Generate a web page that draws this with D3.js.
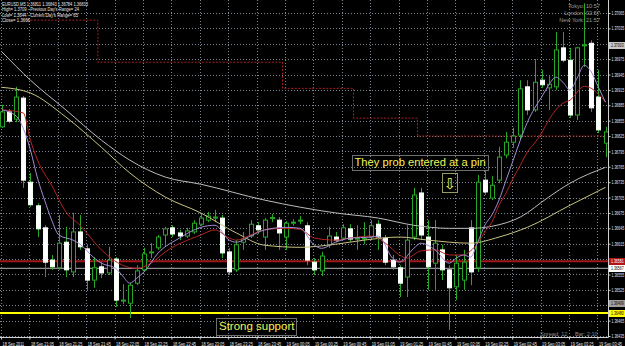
<!DOCTYPE html>
<html>
<head>
<meta charset="utf-8">
<script src="https://cdn.jsdelivr.net/npm/d3@7"></script>
<style>
  body { margin: 0; background: #000; }
  svg { display: block; }
</style>
</head>
<body>
<div id="chart"></div>
<script>

// ---- data (EURUSD, M5) ----

// bottom time scale: one label every 4 bars
var timeLabels = ["18 Sep 2011", "18 Sep 21:05", "18 Sep 21:25", "18 Sep 21:45", "18 Sep 22:05",
  "18 Sep 22:25", "18 Sep 22:45", "18 Sep 23:05", "18 Sep 23:25", "18 Sep 23:45", "19 Sep 00:05",
  "19 Sep 00:25", "19 Sep 00:45", "19 Sep 01:05", "19 Sep 01:25", "19 Sep 01:45", "19 Sep 02:05",
  "19 Sep 02:25", "19 Sep 02:45", "19 Sep 03:05", "19 Sep 03:25", "19 Sep 03:45"];
var timeTickBars = [0, 4, 8, 12, 16, 20, 24, 28, 32, 36, 40, 44, 48, 52, 56, 60, 64, 68, 72, 76, 80, 84];

// right price scale
var priceTicks = [1.36435, 1.36465, 1.36495, 1.36525, 1.36555, 1.36585, 1.36615, 1.36645, 1.36675,
  1.36705, 1.36735, 1.36765, 1.36795, 1.36825, 1.36855, 1.36885, 1.36915, 1.36945, 1.36975,
  1.37005, 1.37035, 1.37065];

// candles
var opens = [1.36843, 1.36872, 1.36858, 1.36899, 1.36735, 1.36689, 1.36646, 1.36583, 1.36568, 1.36618,
  1.36560, 1.36638, 1.36605, 1.36544, 1.36570, 1.36558, 1.36585, 1.36503, 1.36499, 1.36538,
  1.36564, 1.36597, 1.36607, 1.36632, 1.36646, 1.36636, 1.36630, 1.36638, 1.36653, 1.36661,
  1.36665, 1.36665, 1.36599, 1.36564, 1.36618, 1.36630, 1.36650, 1.36628, 1.36664, 1.36661,
  1.36628, 1.36655, 1.36659, 1.36650, 1.36579, 1.36562, 1.36613, 1.36628, 1.36626, 1.36644,
  1.36624, 1.36624, 1.36628, 1.36653, 1.36626, 1.36583, 1.36568, 1.36550, 1.36628, 1.36714,
  1.36628, 1.36577, 1.36603, 1.36564, 1.36531, 1.36544, 1.36646, 1.36568, 1.36739, 1.36704,
  1.36739, 1.36788, 1.36813, 1.36827, 1.36921, 1.36876, 1.36934, 1.36919, 1.36921, 1.36997,
  1.36973, 1.36866, 1.37001, 1.37006, 1.36901, 1.36811];
var highs = [1.36886, 1.36878, 1.36921, 1.36903, 1.36753, 1.36694, 1.36651, 1.36593, 1.36671, 1.36648,
  1.36675, 1.36671, 1.36613, 1.36589, 1.36579, 1.36609, 1.36589, 1.36536, 1.36538, 1.36573,
  1.36607, 1.36616, 1.36632, 1.36648, 1.36651, 1.36642, 1.36646, 1.36661, 1.36673, 1.36677,
  1.36681, 1.36671, 1.36607, 1.36622, 1.36638, 1.36661, 1.36657, 1.36665, 1.36673, 1.36667,
  1.36659, 1.36663, 1.36669, 1.36657, 1.36587, 1.36599, 1.36648, 1.36638, 1.36653, 1.36653,
  1.36651, 1.36657, 1.36661, 1.36661, 1.36632, 1.36593, 1.36573, 1.36651, 1.36724, 1.36724,
  1.36661, 1.36661, 1.36613, 1.36573, 1.36593, 1.36603, 1.36661, 1.36749, 1.36759, 1.36747,
  1.36804, 1.36833, 1.36841, 1.36934, 1.36934, 1.36975, 1.36954, 1.36944, 1.37028, 1.37028,
  1.36997, 1.36999, 1.37084, 1.37012, 1.36954, 1.36843];
var lows = [1.36841, 1.36850, 1.36852, 1.36724, 1.36687, 1.36628, 1.36550, 1.36564, 1.36564, 1.36550,
  1.36550, 1.36603, 1.36525, 1.36529, 1.36548, 1.36554, 1.36492, 1.36497, 1.36470, 1.36534,
  1.36560, 1.36587, 1.36603, 1.36609, 1.36628, 1.36622, 1.36626, 1.36634, 1.36650, 1.36657,
  1.36657, 1.36587, 1.36554, 1.36560, 1.36603, 1.36626, 1.36634, 1.36603, 1.36657, 1.36603,
  1.36603, 1.36650, 1.36653, 1.36573, 1.36554, 1.36552, 1.36607, 1.36618, 1.36622, 1.36618,
  1.36603, 1.36614, 1.36622, 1.36603, 1.36573, 1.36564, 1.36511, 1.36511, 1.36622, 1.36622,
  1.36525, 1.36525, 1.36544, 1.36447, 1.36505, 1.36525, 1.36534, 1.36560, 1.36710, 1.36700,
  1.36733, 1.36782, 1.36802, 1.36817, 1.36866, 1.36872, 1.36919, 1.36876, 1.36915, 1.36969,
  1.36860, 1.36856, 1.36960, 1.36872, 1.36831, 1.36784];
var closes = [1.36872, 1.36854, 1.36901, 1.36739, 1.36691, 1.36644, 1.36579, 1.36570, 1.36616, 1.36564,
  1.36638, 1.36609, 1.36544, 1.36568, 1.36558, 1.36583, 1.36505, 1.36505, 1.36534, 1.36562,
  1.36595, 1.36599, 1.36628, 1.36644, 1.36634, 1.36630, 1.36640, 1.36655, 1.36665, 1.36669,
  1.36667, 1.36597, 1.36560, 1.36613, 1.36624, 1.36653, 1.36642, 1.36661, 1.36666, 1.36636,
  1.36655, 1.36657, 1.36661, 1.36583, 1.36564, 1.36591, 1.36630, 1.36622, 1.36646, 1.36624,
  1.36626, 1.36626, 1.36650, 1.36628, 1.36579, 1.36570, 1.36538, 1.36622, 1.36710, 1.36632,
  1.36570, 1.36616, 1.36564, 1.36529, 1.36577, 1.36579, 1.36560, 1.36735, 1.36716, 1.36729,
  1.36784, 1.36813, 1.36825, 1.36917, 1.36876, 1.36930, 1.36925, 1.36926, 1.36993, 1.36973,
  1.36866, 1.36997, 1.37003, 1.36880, 1.36837, 1.36833];

// moving averages, [bar, price] read at points along each line
var fastMa = [[0, 1.36876], [2, 1.36864], [3, 1.36840], [4, 1.36798], [5, 1.36743], [6, 1.36700],
  [7, 1.36661], [8, 1.36632], [10, 1.36622], [11, 1.36614], [13, 1.36587], [14, 1.36577],
  [16, 1.36567], [17, 1.36552], [18, 1.36538], [19, 1.36548], [20, 1.36560], [22, 1.36597],
  [25, 1.36626], [28, 1.36647], [30, 1.36651], [32, 1.36622], [33, 1.36618], [35, 1.36630],
  [37, 1.36642], [40, 1.36647], [42, 1.36645], [44, 1.36612], [45, 1.36606], [47, 1.36618],
  [49, 1.36626], [52, 1.36628], [53, 1.36630], [55, 1.36587], [56, 1.36579], [58, 1.36606],
  [59, 1.36616], [61, 1.36603], [63, 1.36577], [64, 1.36587], [65, 1.36593], [66, 1.36589],
  [67, 1.36618], [68, 1.36651], [69, 1.36671], [70, 1.36700], [71, 1.36739], [72, 1.36778],
  [73, 1.36817], [74, 1.36852], [75, 1.36879], [76, 1.36901], [77, 1.36924], [78, 1.36940],
  [79, 1.36930], [80, 1.36915], [81, 1.36938], [82, 1.36963], [83, 1.36950], [84, 1.36920],
  [85, 1.36891]];
var midMa = [[0, 1.36876], [3, 1.36870], [4, 1.36817], [5, 1.36778], [7, 1.36729], [9, 1.36677],
  [11, 1.36651], [14, 1.36603], [17, 1.36573], [19, 1.36567], [21, 1.36577], [23, 1.36599],
  [28, 1.36632], [30, 1.36642], [32, 1.36626], [33, 1.36622], [35, 1.36632], [37, 1.36642],
  [40, 1.36645], [42, 1.36643], [44, 1.36626], [47, 1.36622], [49, 1.36626], [52, 1.36630],
  [54, 1.36616], [56, 1.36593], [57, 1.36587], [59, 1.36601], [61, 1.36603], [63, 1.36593],
  [65, 1.36593], [66, 1.36601], [67, 1.36616], [68, 1.36638], [69, 1.36657], [70, 1.36690],
  [71, 1.36714], [72, 1.36743], [73, 1.36768], [74, 1.36794], [75, 1.36811], [76, 1.36831],
  [77, 1.36856], [78, 1.36876], [79, 1.36889], [80, 1.36895], [82, 1.36922], [83, 1.36918],
  [84, 1.36907], [85, 1.36891]];
var slowMa = [[0, 1.36989], [4, 1.36934], [9, 1.36876], [14, 1.36817], [18, 1.36778], [23, 1.36745],
  [28, 1.36731], [37, 1.36700], [47, 1.36675], [53, 1.36665], [58, 1.36651], [63, 1.36645],
  [66, 1.36645], [69, 1.36649], [73, 1.36667], [77, 1.36706], [80, 1.36733], [85, 1.36764]];
var slowerMa = [[0, 1.36920], [4, 1.36909], [9, 1.36862], [14, 1.36803], [18, 1.36753], [23, 1.36706],
  [28, 1.36675], [33, 1.36636], [37, 1.36612], [42, 1.36608], [47, 1.36614], [51, 1.36622],
  [56, 1.36628], [60, 1.36622], [66, 1.36616], [70, 1.36628], [74, 1.36647], [80, 1.36690],
  [85, 1.36725]];

// dotted stair line (starts of each level) and its levels
var stepBars = [4, 14, 40, 50, 59];
var stepLevels = [1.37051, 1.36969, 1.36918, 1.36860, 1.36825];

// horizontal lines drawn on the chart
var resistanceLine = 1.36581;
var bidLine = 1.36567;
var supportLine = 1.36480;

// highlighted prices on the price scale
var markerPrices = [1.37003, 1.36581, 1.36567, 1.36499, 1.36480];

// ---- layout ----
var svgWidth = 625;
var svgHeight = 346;
var plotRight = 608;
var plotBottom = 337;
var squeeze = 0.7;      // price labels are drawn narrow so they fit the scale strip
var timeSqueeze = 0.78; // same for the time labels

var svg = d3.select("#chart")
  .append("svg")
  .attr("width", svgWidth)
  .attr("height", svgHeight)
  .style("font-family", "'Liberation Sans', Arial, sans-serif");

svg.append("rect")
  .attr("width", svgWidth)
  .attr("height", svgHeight)
  .attr("fill", "#000");

var xScale = d3.scaleLinear().domain([0, 85]).range([2, 605.5]);
var yScale = d3.scaleLinear().domain([1.36435, 1.37065]).range([336, 13]);

svg.append("clipPath").attr("id", "plotClip")
  .append("rect").attr("width", plotRight).attr("height", plotBottom);

var chartGroup = svg.append("g").attr("clip-path", "url(#plotClip)");

// dotted grid
chartGroup.selectAll(".vgrid")
  .data(timeTickBars)
  .enter()
  .append("line")
  .attr("x1", d => Math.round(xScale(d)) - 0.5)
  .attr("x2", d => Math.round(xScale(d)) - 0.5)
  .attr("y1", 0)
  .attr("y2", plotBottom)
  .attr("stroke", "#7a8694")
  .attr("stroke-dasharray", "1,2");

chartGroup.selectAll(".hgrid")
  .data(priceTicks)
  .enter()
  .append("line")
  .attr("x1", 0)
  .attr("x2", plotRight)
  .attr("y1", d => Math.round(yScale(d)) + 0.5)
  .attr("y2", d => Math.round(yScale(d)) + 0.5)
  .attr("stroke", "#7a8694")
  .attr("stroke-dasharray", "1,2");

// horizontal lines
function hLine(price, color, w) {
  chartGroup.append("line")
    .attr("x1", 0)
    .attr("x2", plotRight)
    .attr("y1", yScale(price))
    .attr("y2", yScale(price))
    .attr("stroke", color)
    .attr("stroke-width", w);
}
hLine(resistanceLine, "#a01818", 2);
hLine(bidLine, "#b4b4b4", 1);
hLine(supportLine, "#ffff00", 2);

// dotted stair line
var stairPoints = stepBars.map((b, i) => [xScale(b) - 3.5, stepLevels[i]]);
stairPoints.push([plotRight, stepLevels[stepLevels.length - 1]]);
chartGroup.append("path")
  .attr("d", d3.line().x(d => d[0]).y(d => yScale(d[1])).curve(d3.curveStepAfter)(stairPoints))
  .attr("fill", "none")
  .attr("stroke", "#a02020")
  .attr("stroke-dasharray", "2,1.5");

// candles
var candleData = opens.map((o, i) => ({ i: i, open: o, high: highs[i], low: lows[i], close: closes[i] }));

chartGroup.selectAll(".wick")
  .data(candleData)
  .enter()
  .append("line")
  .attr("x1", d => Math.round(xScale(d.i)) + 0.5)
  .attr("x2", d => Math.round(xScale(d.i)) + 0.5)
  .attr("y1", d => yScale(d.high))
  .attr("y2", d => yScale(d.low))
  .attr("stroke", "#26a826");

chartGroup.selectAll(".body")
  .data(candleData)
  .enter()
  .append("rect")
  .attr("x", d => Math.round(xScale(d.i)) - 1.5)
  .attr("width", 4)
  .attr("y", d => yScale(Math.max(d.open, d.close)))
  .attr("height", d => Math.max(0.5, Math.abs(yScale(d.open) - yScale(d.close))))
  .attr("fill", d => d.close >= d.open ? "#000" : "#fff")
  .attr("stroke", d => d.close >= d.open ? "#26a826" : "#f2fff2");

// moving averages on top
var maLine = d3.line()
  .x(d => xScale(d[0]))
  .y(d => yScale(d[1]))
  .curve(d3.curveMonotoneX);

function drawMa(points, color) {
  chartGroup.append("path")
    .attr("d", maLine(points))
    .attr("fill", "none")
    .attr("stroke", color)
    .attr("stroke-width", 1);
}
drawMa(slowerMa, "#c8c282");
drawMa(slowMa, "#bcbcbc");
drawMa(midMa, "#b42424");
drawMa(fastMa, "#a28cd6");

// annotations
var noteColor = "#f2f25a";

chartGroup.append("rect")
  .attr("x", 352.5).attr("y", 155.5).attr("width", 136).attr("height", 15)
  .attr("fill", "none").attr("stroke", "#6e6e6e");
chartGroup.append("text")
  .attr("x", 354.5).attr("y", 166)
  .attr("font-size", "11.2px")
  .attr("fill", noteColor)
  .text("They prob entered at a pin");

chartGroup.append("rect")
  .attr("x", 442.5).attr("y", 173.5).attr("width", 15).attr("height", 19)
  .attr("fill", "none").attr("stroke", "#9a9a60");
chartGroup.append("text")
  .attr("x", 450).attr("y", 189)
  .attr("text-anchor", "middle")
  .attr("font-family", "'DejaVu Sans', sans-serif")
  .attr("font-size", "15px")
  .attr("fill", noteColor)
  .text("\u21E9");

chartGroup.append("rect")
  .attr("x", 216.5).attr("y", 318.5).attr("width", 80).attr("height", 17)
  .attr("fill", "none").attr("stroke", "#6e6e6e");
chartGroup.append("text")
  .attr("x", 219).attr("y", 330)
  .attr("font-size", "11.5px")
  .attr("fill", noteColor)
  .text("Strong support");

// info texts
var last = candleData[candleData.length - 1];
var f5 = d3.format(".5f");
var infoLines = [
  "EURUSD,M5  " + f5(last.open) + " " + f5(last.high) + " " + f5(last.low) + " " + f5(last.close),
  "High= 1.3709 - Previous Day's Range= 24",
  "Low= 1.3644 - Current Day's Range= 65",
  "Close= 1.3666"
];
var infoWidths = [86, 77, 76, 28];
svg.selectAll(".info")
  .data(infoLines)
  .enter()
  .append("text")
  .attr("x", 2)
  .attr("y", (d, i) => 5.5 + i * 5.6)
  .attr("font-size", "5px")
  .attr("textLength", (d, i) => infoWidths[i])
  .attr("lengthAdjust", "spacingAndGlyphs")
  .attr("fill", "#e6e6e6")
  .text(d => d);

var clockLines = ["Tokyo: 10:57", "London: 02:57", "New York: 21:57"];
svg.selectAll(".clock")
  .data(clockLines)
  .enter()
  .append("text")
  .attr("x", 600)
  .attr("y", (d, i) => 8.3 + i * 6.9)
  .attr("text-anchor", "end")
  .attr("font-size", "5.6px")
  .attr("fill", "#9c9c9c")
  .text(d => d);

svg.append("text")
  .attr("x", 540).attr("y", 336)
  .attr("font-size", "5.6px").attr("fill", "#8c8c8c")
  .text("Spread: 12");
svg.append("text")
  .attr("x", 575).attr("y", 336)
  .attr("font-size", "5.6px").attr("fill", "#8c8c8c")
  .text("Bar: 2:10");

// price axis; labels under the highlighted boxes are not shown
function underMarker(p) {
  return markerPrices.some(m => Math.abs(yScale(m) - yScale(p)) < 5);
}
var rightAxis = d3.axisRight(yScale)
  .tickValues(priceTicks)
  .tickFormat(d => underMarker(d) ? "" : f5(d))
  .tickSize(2)
  .tickPadding(1);

var priceAxis = svg.append("g")
  .attr("transform", `translate(${plotRight + 0.5}, 0)`)
  .call(rightAxis);
priceAxis.select(".domain").remove();
priceAxis.selectAll("line").attr("stroke", "#d0d0d0");
priceAxis.selectAll("text")
  .filter(function() { return d3.select(this).text() !== ""; })
  .attr("x", 3 / squeeze)
  .attr("transform", `scale(${squeeze}, 1)`)
  .attr("font-size", "5px")
  .attr("font-family", "'Liberation Sans', Arial, sans-serif")
  .attr("fill", "#e6e6e6");

// time axis
var bottomAxis = d3.axisBottom(xScale)
  .tickValues(timeTickBars)
  .tickFormat((d, i) => timeLabels[i])
  .tickSize(2);

var timeAxis = svg.append("g")
  .attr("transform", `translate(-1, ${plotBottom + 0.5})`)
  .call(bottomAxis);
timeAxis.select(".domain").remove();
timeAxis.selectAll("line").attr("stroke", "#d0d0d0");
timeAxis.selectAll("text")
  .attr("x", 1 / timeSqueeze)
  .attr("y", 4.5)
  .attr("transform", `scale(${timeSqueeze}, 1)`)
  .attr("text-anchor", "start")
  .attr("font-size", "5px")
  .attr("font-family", "'Liberation Sans', Arial, sans-serif")
  .attr("fill", "#e6e6e6");

// chart frame
svg.append("line")
  .attr("x1", plotRight + 0.5).attr("x2", plotRight + 0.5)
  .attr("y1", 0).attr("y2", plotBottom + 0.5)
  .attr("stroke", "#d0d0d0");
svg.append("line")
  .attr("x1", 0).attr("x2", plotRight + 0.5)
  .attr("y1", plotBottom + 0.5).attr("y2", plotBottom + 0.5)
  .attr("stroke", "#d0d0d0");

// highlighted price boxes on the scale
var markerFill = ["#c8c8c8", "#b41414", "#ffffff", "#a0a0a0", "#ffff00"];
var markerText = ["#000", "#fff", "#000", "#000", "#000"];
var markers = svg.selectAll(".marker")
  .data(markerPrices)
  .enter()
  .append("g")
  .attr("transform", d => `translate(${plotRight + 1}, ${Math.round(yScale(d)) - 3})`);
markers.append("rect")
  .attr("width", svgWidth - plotRight)
  .attr("height", 7)
  .attr("fill", (d, i) => markerFill[i]);
markers.append("text")
  .attr("x", 2 / squeeze)
  .attr("y", 5.2)
  .attr("transform", `scale(${squeeze}, 1)`)
  .attr("font-size", "5px")
  .attr("fill", (d, i) => markerText[i])
  .text(d => f5(d));

</script>
</body>
</html>
